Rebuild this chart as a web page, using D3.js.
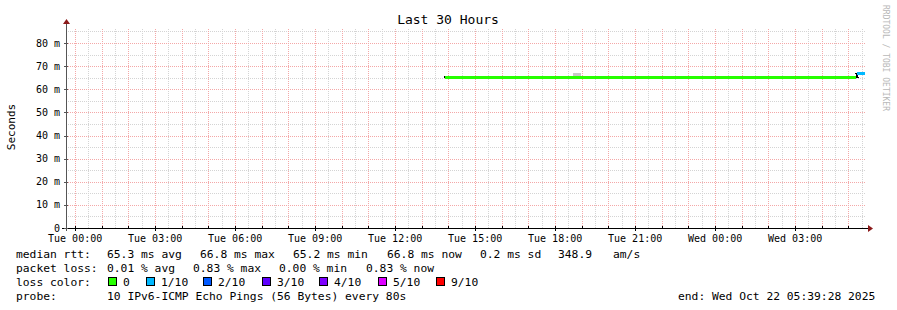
<!DOCTYPE html>
<html><head><meta charset="utf-8">
<script src="https://cdn.jsdelivr.net/npm/d3@7"></script>
<style>
html,body{margin:0;padding:0;background:#fff;}
svg{display:block;}
text{font-family:"DejaVu Sans Mono",monospace;fill:#000;}
</style></head>
<body>
<svg id="c" width="897" height="310"></svg>
<script>
// ---- data ----
const title = "Last 30 Hours";
const yLabel = "Seconds";
const rangeStart = "2025-10-20T23:39:28Z";
const rangeEnd = "2025-10-22T05:39:28Z";
const yMax = 0.0865;
const yTicks = [0, 0.01, 0.02, 0.03, 0.04, 0.05, 0.06, 0.07, 0.08];
// median rtt segments (seconds), with loss index
const segStart = ["2025-10-21T13:52:00Z", "2025-10-22T05:20:00Z"];
const segEnd   = ["2025-10-22T05:20:00Z", "2025-10-22T05:37:00Z"];
const segMedian = [0.0653, 0.0668];
const segLoss = [0, 1];
// smoke (rtt spread) segments
const smokeStart = ["2025-10-21T18:40:00Z", "2025-10-22T05:20:00Z"];
const smokeEnd   = ["2025-10-21T18:58:00Z", "2025-10-22T05:37:00Z"];
const smokeLo = [0.0653, 0.0660];
const smokeHi = [0.0670, 0.0668];
// loss legend
const lossLabels = ["0", "1/10", "2/10", "3/10", "4/10", "5/10", "9/10"];
const lossColors = ["#26ff00", "#00b8ff", "#0059ff", "#5e00ff", "#7e00ff", "#dd00ff", "#ff0000"];
// legend texts
const rttLabels = ["median rtt:", "65.3 ms avg", "66.8 ms max", "65.2 ms min", "66.8 ms now", "0.2 ms sd", "348.9", "am/s"];
const lossTexts = ["packet loss:", "0.01 % avg", "0.83 % max", "0.00 % min", "0.83 % now"];
const probeTexts = ["probe:", "10 IPv6-ICMP Echo Pings (56 Bytes) every 80s"];
const endText = "end: Wed Oct 22 05:39:28 2025";
const watermark = "RRDTOOL / TOBI OETIKER";

// ---- layout ----
const L = 66, R = 866, T = 28, B = 228;
const svg = d3.select("#c");
const x = d3.scaleUtc().domain([new Date(rangeStart), new Date(rangeEnd)]).range([L, R]);
const y = d3.scaleLinear().domain([0, yMax]).range([B, T]);

const g = svg.append("g").attr("shape-rendering", "crispEdges");
// minor grid
const minorX = d3.utcMinute.every(30).range(x.domain()[0], x.domain()[1]);
g.selectAll(".mx").data(minorX).join("line")
  .attr("x1", d => Math.round(x(d)) + 0.5).attr("x2", d => Math.round(x(d)) + 0.5)
  .attr("y1", B).attr("y2", T)
  .attr("stroke", "#d4d4d4").attr("stroke-dasharray", "1,1");
const minorY = d3.range(0.005, yMax, 0.01);
g.selectAll(".my").data(minorY).join("line")
  .attr("y1", d => Math.round(y(d)) + 0.5).attr("y2", d => Math.round(y(d)) + 0.5)
  .attr("x1", L).attr("x2", R)
  .attr("stroke", "#d4d4d4").attr("stroke-dasharray", "1,1");
// major grid
const majorX = d3.utcHour.every(1).range(x.domain()[0], x.domain()[1]);
g.selectAll(".Mx").data(majorX).join("line")
  .attr("x1", d => Math.round(x(d)) + 0.5).attr("x2", d => Math.round(x(d)) + 0.5)
  .attr("y1", B).attr("y2", T)
  .attr("stroke", "#f4a8a8").attr("stroke-dasharray", "1,1");
g.selectAll(".My").data(yTicks.slice(1)).join("line")
  .attr("y1", d => Math.round(y(d)) + 0.5).attr("y2", d => Math.round(y(d)) + 0.5)
  .attr("x1", L).attr("x2", R)
  .attr("stroke", "#f4a8a8").attr("stroke-dasharray", "1,1");

// smoke
const smoke = smokeStart.map((s, i) => ({s: new Date(s), e: new Date(smokeEnd[i]), lo: smokeLo[i], hi: smokeHi[i]}));
g.selectAll(".smk").data(smoke).join("rect")
  .attr("x", d => x(d.s)).attr("width", d => x(d.e) - x(d.s))
  .attr("y", d => y(d.hi)).attr("height", d => y(d.lo) - y(d.hi))
  .attr("fill", "#c8c8c8");

// median segments
const segs = segStart.map((s, i) => ({s: new Date(s), e: new Date(segEnd[i]), v: segMedian[i], loss: segLoss[i]}));
// black thin step line beneath
const stepPts = [];
segs.forEach(d => { stepPts.push([x(d.s) - 1, y(d.v)]); stepPts.push([x(d.e), y(d.v)]); });
g.append("path").attr("d", d3.line()(stepPts)).attr("fill", "none").attr("stroke", "#000").attr("stroke-width", 2);
g.selectAll(".seg").data(segs).join("rect")
  .attr("x", d => x(d.s)).attr("width", d => x(d.e) - x(d.s) - (d === segs[0] ? 1 : 0))
  .attr("y", d => y(d.v) - 1.5).attr("height", 3)
  .attr("fill", d => lossColors[d.loss]);

// axes
g.append("line").attr("x1", L - 4).attr("x2", R + 2).attr("y1", B + 0.5).attr("y2", B + 0.5).attr("stroke", "#000");
g.append("line").attr("x1", L + 0.5).attr("x2", L + 0.5).attr("y1", B + 3).attr("y2", T - 4).attr("stroke", "#555");
svg.append("path").attr("d", `M${R + 2},${B - 3} L${R + 7},${B + 0.5} L${R + 2},${B + 4} Z`).attr("fill", "#8b1a1a");
svg.append("path").attr("d", `M${L - 3},${T - 4} L${L + 0.5},${T - 9} L${L + 4},${T - 4} Z`).attr("fill", "#8b1a1a");

// ticks
const labelTicks = d3.utcHour.every(3).range(x.domain()[0], x.domain()[1]);
g.selectAll(".xt").data(labelTicks).join("line")
  .attr("x1", d => Math.round(x(d)) + 0.5).attr("x2", d => Math.round(x(d)) + 0.5)
  .attr("y1", B).attr("y2", B + 3).attr("stroke", "#000");
g.selectAll(".xm").data(majorX).join("line")
  .attr("x1", d => Math.round(x(d)) + 0.5).attr("x2", d => Math.round(x(d)) + 0.5)
  .attr("y1", B - 2).attr("y2", B).attr("stroke", "#000");
g.selectAll(".yt").data(yTicks).join("line")
  .attr("y1", d => Math.round(y(d)) + 0.5).attr("y2", d => Math.round(y(d)) + 0.5)
  .attr("x1", L - 2).attr("x2", L + 2).attr("stroke", "#555");

const fmt = d3.utcFormat("%a %H:%M");
svg.selectAll(".xl").data(labelTicks).join("text")
  .attr("x", d => x(d)).attr("y", B + 14).attr("text-anchor", "middle")
  .attr("font-size", "10px").text(d => fmt(d));
svg.selectAll(".yl").data(yTicks).join("text")
  .attr("x", 60).attr("y", d => y(d) + 3.5).attr("text-anchor", "end")
  .attr("font-size", "10px").text(d => d === 0 ? "0" : Math.round(d * 1000) + " m");

// title & labels
svg.append("text").attr("x", 448).attr("y", 24).attr("text-anchor", "middle").attr("font-size", "13px").text(title);
svg.append("text").attr("transform", "translate(15,127) rotate(-90)").attr("text-anchor", "middle").attr("font-size", "11px").text(yLabel);
svg.append("text").attr("transform", "translate(883,5) rotate(90)").attr("font-size", "8px")
  .attr("fill", "#b8b8b8").style("fill", "#b8b8b8").text(watermark);

// legend
const fs = "11.3px";
function row(texts, xs, yy) {
  texts.forEach((t, i) => svg.append("text").attr("x", xs[i]).attr("y", yy).attr("font-size", fs)
    .attr("xml:space", "preserve").text(t));
}
row(rttLabels, [16, 107, 200, 293, 387, 480, 558, 613], 258);
row(lossTexts, [16, 107, 193, 279, 366], 272);
row(["loss color:"], [16], 286);
const sqX = [108, 146, 203, 262, 319, 378, 436];
lossLabels.forEach((lb, i) => {
  svg.append("rect").attr("x", sqX[i] + 0.5).attr("y", 277.5).attr("width", 8).attr("height", 8)
    .attr("fill", lossColors[i]).attr("stroke", "#000").attr("shape-rendering", "crispEdges");
  svg.append("text").attr("x", sqX[i] + 15).attr("y", 286).attr("font-size", fs).text(lb);
});
row(probeTexts, [16, 107], 300);
row([endText], [678], 300);
</script>
</body></html>
